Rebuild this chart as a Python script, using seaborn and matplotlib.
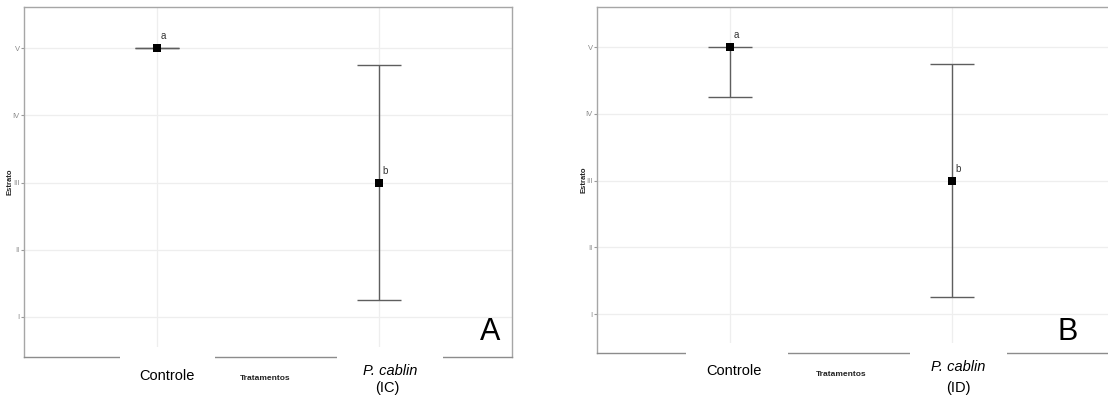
import matplotlib
matplotlib.use("Agg")
import matplotlib.pyplot as plt
import matplotlib.transforms as mtransforms
from matplotlib.patches import Rectangle
import seaborn as sns
import pandas as pd

# ---------------- data ----------------
categories = ["Controle", "P. cablin"]
panel_labels = ["A", "B"]
panel_suffix = ["(IC)", "(ID)"]
means_A = [5.0, 3.0]
lower_A = [5.0, 1.25]
upper_A = [5.0, 4.75]
means_B = [5.0, 3.0]
lower_B = [4.25, 1.25]
upper_B = [5.0, 4.75]
letters = ["a", "b"]
ytick_vals = [1, 2, 3, 4, 5]
ytick_labels = ["I", "II", "III", "IV", "V"]
xlabel = "Tratamentos"
ylabel = "Estrato"

sns.set_theme(style="white")
plt.rcParams["font.family"] = ["Liberation Sans", "DejaVu Sans"]

fig = plt.figure(figsize=(11.08, 3.99), dpi=100)
W, H = 1108.0, 399.0

panels = [
    dict(rect=[24 / W, 42 / H, 488 / W, 350 / H], xlim=(-0.6, 1.6), ylim=(0.405, 5.61),
         means=means_A, lower=lower_A, upper=upper_A,
         gaps=[(-0.167, 0.26), (-0.19, 0.29)],
         cat_pos=[(0.045, -0.054), (0.05, -0.040)], suf_pos=(0.037, -0.089),
         xl_pos=(0.494, -0.060), yl_x=-0.0277, big=(0.955, 0.071)),
    dict(rect=[597 / W, 46 / H, 513 / W, 346 / H], xlim=(-0.6, 1.712), ylim=(0.416, 5.6),
         means=means_B, lower=lower_B, upper=upper_B,
         gaps=[(-0.198, 0.26), (-0.19, 0.25)],
         cat_pos=[(0.018, -0.052), (0.03, -0.040)], suf_pos=(0.03, -0.101),
         xl_pos=(0.476, -0.061), yl_x=-0.0263, big=(0.918, 0.061)),
]

for k, p in enumerate(panels):
    ax = fig.add_axes(p["rect"])
    df = pd.DataFrame({"cat": categories, "mean": p["means"],
                       "lo": p["lower"], "hi": p["upper"]})
    yerr = [df["mean"] - df["lo"], df["hi"] - df["mean"]]
    ax.errorbar(df["cat"], df["mean"], yerr=yerr, fmt="none", ecolor="#5e5e5e",
                elinewidth=1.0, capsize=16, capthick=1.0, zorder=3)
    sns.scatterplot(data=df, x="cat", y="mean", marker="s", color="black",
                    s=30, linewidth=0, ax=ax, zorder=4)

    ax.set_xlim(*p["xlim"])
    ax.set_ylim(*p["ylim"])
    ax.set_yticks(ytick_vals)
    ax.set_yticklabels(ytick_labels)
    ax.tick_params(axis="y", length=2.0, width=0.8, color="#9a9a9a", pad=1,
                   labelsize=5.5, labelcolor="#8a8a8a", left=True)
    ax.tick_params(axis="x", length=0, labelbottom=False)
    ax.set_xlabel("")
    ax.set_ylabel("")
    ax.grid(True, color="#eeeeee", linewidth=0.9)
    ax.set_axisbelow(True)
    for side in ["top", "left", "right"]:
        ax.spines[side].set_color("#a6a6a6")
        ax.spines[side].set_linewidth(1.0)
    ax.spines["bottom"].set_color("#8c8c8c")
    ax.spines["bottom"].set_linewidth(1.0)

    # letters of significance
    for i, (m, let) in enumerate(zip(df["mean"], letters)):
        ax.annotate(let, (i, m), xytext=(4.5, 8.5), textcoords="offset points",
                    fontsize=7, color="#333333", ha="center", va="center")

    # white patches interrupting the bottom line (pasted labels)
    blend = mtransforms.blended_transform_factory(ax.transData, ax.transAxes)
    for i, (gl, gr) in enumerate(p["gaps"]):
        ax.add_patch(Rectangle((i + gl, -0.03), gr - gl, 0.058, transform=blend,
                               facecolor="white", edgecolor="none",
                               clip_on=False, zorder=5))

    # category labels
    (c0x, c0y), (c1x, c1y) = p["cat_pos"]
    ax.text(0 + c0x, c0y, categories[0], transform=blend, ha="center", va="center",
            fontsize=10.5, color="black", zorder=6)
    ax.text(1 + c1x, c1y, categories[1], transform=blend, ha="center", va="center",
            fontsize=10.5, style="italic", color="black", zorder=6)
    ax.text(1 + p["suf_pos"][0], p["suf_pos"][1], panel_suffix[k], transform=blend,
            ha="center", va="center", fontsize=10.5, color="black", zorder=6)

    # axis titles
    ax.text(p["xl_pos"][0], p["xl_pos"][1], xlabel, transform=ax.transAxes,
            ha="center", va="center", fontsize=6, fontweight="bold",
            family=["Liberation Sans Narrow", "Liberation Sans", "DejaVu Sans"],
            color="#222222")
    ax.text(p["yl_x"], 0.5, ylabel, transform=ax.transAxes, rotation=90,
            ha="center", va="center", fontsize=5.5, fontweight="bold", color="#222222")

    # panel letter
    ax.text(p["big"][0], p["big"][1], panel_labels[k], transform=ax.transAxes,
            ha="center", va="center", fontsize=22, color="black")

fig.savefig("out.png", dpi=100)
